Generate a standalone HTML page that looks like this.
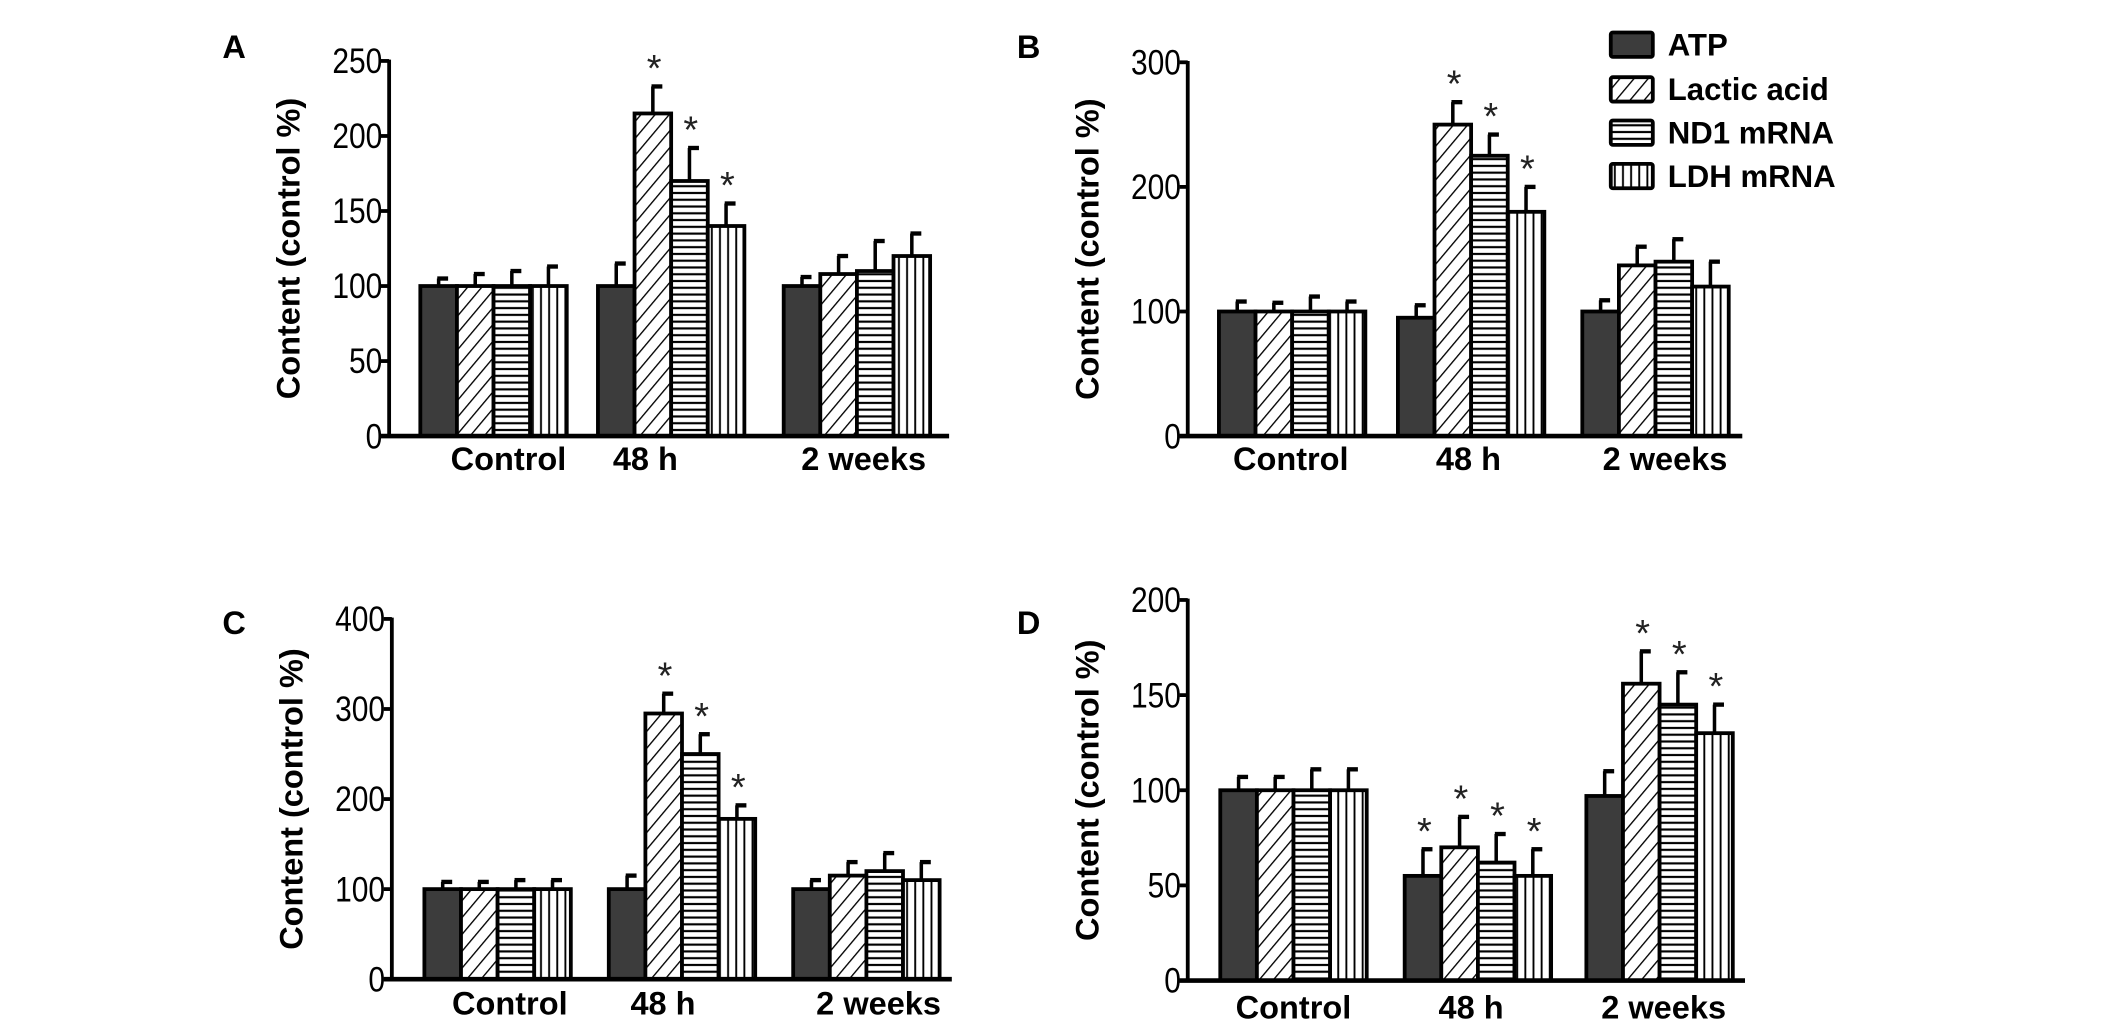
<!DOCTYPE html>
<html><head><meta charset="utf-8"><style>
html,body{margin:0;padding:0;background:#fff;}
svg{display:block;}
text{font-family:"Liberation Sans",Arial,sans-serif;}
</style></head><body>
<svg id="fig" width="2126" height="1032" viewBox="0 0 1568 762" preserveAspectRatio="none" xmlns="http://www.w3.org/2000/svg">
<defs>
<pattern id="pDiag" patternUnits="userSpaceOnUse" width="8" height="8" patternTransform="rotate(40)"><rect width="8" height="8" fill="#fff"/><line x1="0" y1="0" x2="0" y2="8" stroke="#000" stroke-width="2"/></pattern>
<pattern id="pHor" patternUnits="userSpaceOnUse" width="6" height="5"><rect width="6" height="5" fill="#fff"/><line x1="0" y1="2.5" x2="6" y2="2.5" stroke="#000" stroke-width="1.6"/></pattern>
<pattern id="pVer" patternUnits="userSpaceOnUse" width="6" height="6"><rect width="6" height="6" fill="#fff"/><line x1="3" y1="0" x2="3" y2="6" stroke="#000" stroke-width="1.4"/></pattern>
</defs>
<g id="legend"></g>
</svg>
<script>
// Data
const categories = ["Control","48 h","2 weeks"];
const seriesNames = ["ATP","Lactic acid","ND1 mRNA","LDH mRNA"];
const aVals = [[100,100,100],[100,215,108],[100,170,110],[100,140,120]];
const aErr  = [[5,15,6],[8,18,12],[10,22,20],[13,15,15]];
const aStar = [[0,0,0],[0,1,0],[0,1,0],[0,1,0]];
const aTicks = [0,50,100,150,200,250];
const bVals = [[100,95,100],[100,250,137],[100,225,140],[100,180,120]];
const bErr  = [[8,10,9],[7,18,15],[12,17,18],[8,20,20]];
const bStar = [[0,0,0],[0,1,0],[0,1,0],[0,1,0]];
const bTicks = [0,100,200,300];
const cVals = [[100,100,100],[100,295,115],[100,250,120],[100,178,110]];
const cErr  = [[8,15,10],[8,22,15],[10,22,20],[10,15,20]];
const cStar = [[0,0,0],[0,1,0],[0,1,0],[0,1,0]];
const cTicks = [0,100,200,300,400];
const dVals = [[100,55,97],[100,70,156],[100,62,145],[100,55,130]];
const dErr  = [[7,14,13],[7,16,17],[11,15,17],[11,14,15]];
const dStar = [[0,1,0],[0,1,1],[0,1,1],[0,1,1]];
const dTicks = [0,50,100,150,200];

const NS="http://www.w3.org/2000/svg";
const svg=document.getElementById('fig');
const fills=["#3c3c3c","url(#pDiag)","url(#pHor)","url(#pVer)"];
function mk(tag,attrs,parent){const e=document.createElementNS(NS,tag);for(const k in attrs)e.setAttribute(k,attrs[k]);(parent||svg).appendChild(e);return e;}

function panel(cfg){
  const g=mk('g',{});
  
  
  const ymax=cfg.ticks[cfg.ticks.length-1];
  const y=v=>cfg.y0-(v/ymax)*(cfg.y0-cfg.yTop);
  const L=mk('text',{x:cfg.letterX,y:cfg.letterY,'font-family':'Liberation Serif,serif','font-weight':'bold','font-size':24},g);
  L.textContent=cfg.letter;
  
  
  const bw=(cfg.groupW)/4;
  for(let c=0;c<categories.length;c++){
    for(let s=0;s<4;s++){
      const v=cfg.vals[s][c], e=cfg.err[s][c];
      const x=cfg.groupX[c]+s*bw;
      const r=mk('rect',{x:x,y:y(v),width:bw,height:cfg.y0-y(v),fill:fills[s],stroke:'#000','stroke-width':2.8},g);
      
      
      const cx=x+bw/2;
      const el=mk('line',{x1:cx,x2:cx,y1:y(v),y2:y(v+e),stroke:'#000','stroke-width':2.6},g);
      
      
      const cap=mk('line',{x1:cx-1,x2:cx+7,y1:y(v+e),y2:y(v+e),stroke:'#000','stroke-width':3.2},g);
      
      
      if(cfg.star[s][c]){
        const st=mk('text',{x:cx+1,y:y(v+e)-4,'text-anchor':'middle','font-size':28,fill:'#222'},g);
        st.textContent='*';
        
        
      }
    }
    const cl=mk('text',{x:cfg.catX[c],y:cfg.catY,'text-anchor':'middle','font-size':24,'font-weight':'bold'},g);
    cl.textContent=categories[c];
    
    
  }
  const ya=mk('line',{x1:cfg.axX,x2:cfg.axX,y1:cfg.yTop-1,y2:cfg.y0,stroke:'#000','stroke-width':2.8},g);
  
  
  const xa=mk('line',{x1:cfg.axX-6,x2:cfg.xEnd,y1:cfg.y0,y2:cfg.y0,stroke:'#000','stroke-width':3.4},g);
  
  
  for(const t of cfg.ticks){
    const tk=mk('line',{x1:cfg.axX-6,x2:cfg.axX,y1:y(t),y2:y(t),stroke:'#000','stroke-width':2.8},g);
    
    
    const tl=mk('text',{x:cfg.axX-5,y:y(t)+9,'text-anchor':'end','font-size':26,transform:'translate('+(cfg.axX-5)+',0) scale(0.85,1) translate('+(-(cfg.axX-5))+',0)'},g);
    tl.textContent=t;
    
    
  }
  const cy=(cfg.y0+cfg.yTop)/2;
  const yt=mk('text',{x:0,y:0,'text-anchor':'middle','font-size':24,'font-weight':'bold',transform:'translate('+cfg.titleX+','+cy+') rotate(-90)'},g);
  yt.textContent='Content (control %)';
  
  
}

panel({letter:'A',letterX:164,letterY:43,axX:287,yTop:45,y0:322,xEnd:700,ticks:aTicks,vals:aVals,err:aErr,star:aStar,groupX:[310,441,578],groupW:108,catX:[375,476,637],catY:347,titleX:221});
panel({letter:'B',letterX:750,letterY:43,axX:876,yTop:46,y0:322,xEnd:1285,ticks:bTicks,vals:bVals,err:bErr,star:bStar,groupX:[899,1031,1167],groupW:108,catX:[952,1083,1228],catY:347,titleX:810});
panel({letter:'C',letterX:164,letterY:468,axX:289,yTop:457,y0:723,xEnd:702,ticks:cTicks,vals:cVals,err:cErr,star:cStar,groupX:[313,449,585],groupW:108,catX:[376,489,648],catY:749,titleX:223});
panel({letter:'D',letterX:750,letterY:468,axX:876,yTop:443,y0:724,xEnd:1287,ticks:dTicks,vals:dVals,err:dErr,star:dStar,groupX:[900,1036,1170],groupW:108,catX:[954,1085,1227],catY:752,titleX:810});

const lg=document.getElementById('legend');
const legY=[33,66,98,130];
for(let s=0;s<4;s++){
  const r=mk('rect',{x:1188,y:legY[s]-9,width:31,height:18,fill:fills[s],stroke:'#000','stroke-width':2.8,rx:1.5},lg);
  
  
  const t=mk('text',{x:1230,y:legY[s]+8,'font-size':23,'font-weight':'bold'},lg);
  t.textContent=seriesNames[s];
  
  
}
</script>
</body></html>
